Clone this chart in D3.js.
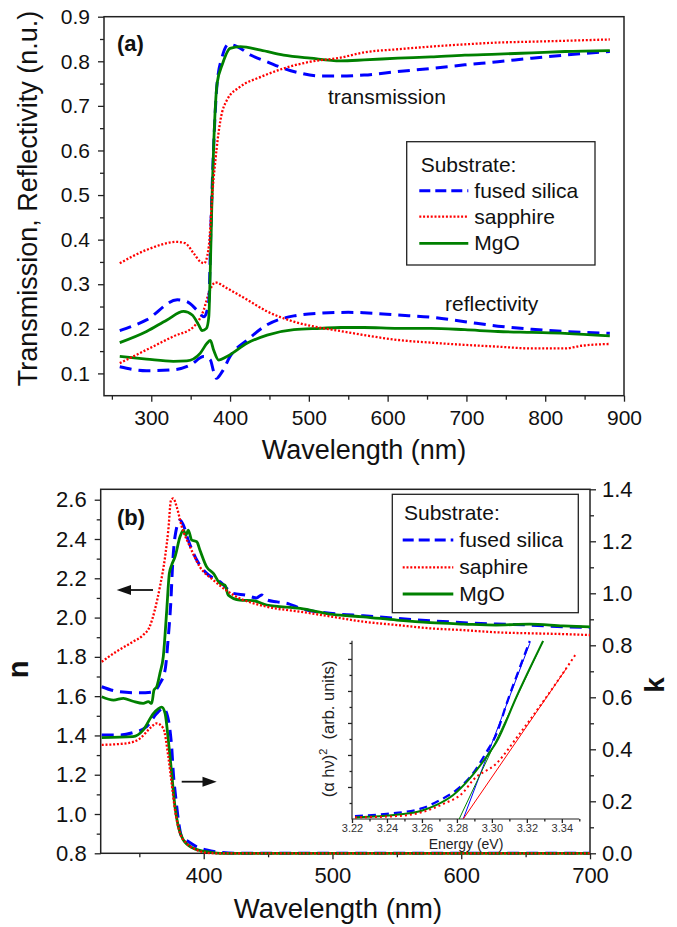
<!DOCTYPE html>
<html><head><meta charset="utf-8">
<script src="https://cdn.jsdelivr.net/npm/d3@7"></script>
<style>body{margin:0;background:#fff}</style>
</head><body>
<svg id="c" width="677" height="927"></svg>
<script>
// ---------------- DATA ----------------
// Panel (a): wavelength (nm), value (n.u.)
const silicaT = [[260,0.196],[294,0.220],[333,0.265],[345,0.261],[358,0.242],[367,0.227],[373,0.262],[376,0.45],[379,0.601],[383.6,0.751],[390,0.810],[398,0.838],[409,0.833],[426,0.814],[447,0.799],[468,0.784],[490,0.773],[515,0.767],[540,0.767],[570,0.769],[613,0.777],[655,0.784],[698,0.792],[740,0.799],[783,0.807],[825,0.814],[882,0.822]];
const sapphireT = [[260,0.347],[294,0.377],[333,0.395],[343,0.392],[354,0.369],[362,0.351],[367,0.347],[372.5,0.377],[375,0.43],[377,0.489],[381.4,0.578],[387.8,0.668],[396,0.713],[413,0.743],[439,0.765],[468,0.784],[502,0.799],[540,0.808],[570,0.820],[613,0.827],[655,0.833],[698,0.838],[740,0.842],[783,0.844],[825,0.846],[882,0.849]];
const mgoT = [[260,0.169],[294,0.194],[320,0.220],[341,0.239],[352,0.231],[360,0.209],[364.5,0.196],[370,0.201],[373,0.227],[375,0.339],[377,0.489],[379.3,0.616],[383.6,0.751],[390,0.792],[400,0.829],[413,0.833],[439,0.825],[468,0.814],[502,0.807],[540,0.801],[570,0.803],[613,0.807],[655,0.810],[698,0.814],[740,0.816],[783,0.819],[825,0.822],[882,0.824]];
const silicaR = [[260,0.115],[294,0.106],[328,0.108],[350,0.119],[366.5,0.138],[375,0.130],[379,0.105],[382.7,0.089],[390,0.104],[400,0.138],[422,0.175],[447,0.209],[481,0.229],[515,0.235],[550,0.237],[570,0.236],[613,0.231],[655,0.226],[698,0.216],[740,0.206],[783,0.199],[825,0.194],[882,0.190]];
const sapphireR = [[260,0.123],[294,0.153],[328,0.183],[354,0.205],[366.5,0.242],[373,0.280],[381.4,0.304],[396,0.291],[422,0.265],[447,0.239],[481,0.216],[507,0.205],[540,0.195],[570,0.186],[613,0.175],[655,0.169],[698,0.164],[740,0.160],[783,0.156],[825,0.156],[846,0.162],[882,0.166]];
const mgoR = [[260,0.138],[294,0.132],[328,0.127],[345,0.128],[362,0.145],[371,0.168],[375,0.174],[379,0.153],[385.6,0.130],[396,0.138],[422,0.168],[447,0.186],[481,0.198],[515,0.201],[540,0.203],[570,0.203],[613,0.201],[655,0.201],[698,0.198],[740,0.194],[783,0.192],[825,0.190],[882,0.184]];

// Panel (b): wavelength (nm), n
const silicaN = [[320.8,1.648],[335,1.622],[350.5,1.617],[361,1.622],[366,1.665],[370,1.733],[372.5,1.902],[374.4,2.072],[375.9,2.276],[377.7,2.411],[381.6,2.496],[384.2,2.471],[388,2.394],[394.6,2.293],[402.3,2.225],[412.7,2.182],[423,2.123],[433,2.114],[441,2.10],[445,2.115],[449,2.09],[457,2.08],[466,2.07],[475,2.047],[500,2.021],[524,2.009],[550,1.996],[576,1.984],[602,1.974],[627,1.967],[653,1.962],[679,1.953],[700,1.95]];
const sapphireN = [[320.8,1.775],[332,1.826],[345,1.877],[353,1.911],[358,1.953],[362,2.038],[366,2.157],[370,2.309],[372.5,2.445],[374.6,2.598],[376.4,2.607],[379,2.564],[383,2.462],[389.4,2.36],[397,2.258],[407.5,2.191],[423,2.115],[449,2.055],[475,2.03],[500,2.004],[524,1.979],[550,1.962],[576,1.945],[602,1.936],[627,1.925],[653,1.92],[679,1.916],[700,1.911]];
const mgoN = [[320.8,1.597],[330,1.58],[337.6,1.589],[345,1.574],[353,1.563],[357,1.572],[359.6,1.563],[361.4,1.631],[363.5,1.648],[366,1.716],[368.6,1.801],[371.3,2.038],[373.3,2.225],[375.1,2.267],[377.7,2.309],[381.6,2.411],[384.2,2.445],[386.2,2.42],[388,2.445],[390.7,2.394],[394.6,2.386],[397.1,2.343],[402.3,2.258],[407.5,2.225],[412.7,2.174],[416.5,2.165],[419.1,2.114],[428,2.089],[438.5,2.086],[449,2.064],[475,2.047],[500,2.016],[524,2.004],[550,1.987],[576,1.974],[602,1.967],[627,1.962],[653,1.967],[679,1.958],[700,1.953]];
// Panel (b): wavelength (nm), k
const silicaK = [[320.8,0.455],[335,0.455],[345,0.464],[355.7,0.487],[363.5,0.538],[368.6,0.558],[371.3,0.538],[373.8,0.474],[375.1,0.41],[376.4,0.308],[378.5,0.205],[380.3,0.128],[382.9,0.064],[388,0.045],[394.6,0.025],[402.3,0.013],[412.7,0.004],[430,0],[700,0]];
const sapphireK = [[320.8,0.417],[340,0.423],[350.6,0.442],[358.3,0.481],[363.5,0.5],[368.6,0.481],[372.5,0.372],[375.1,0.269],[377.7,0.167],[381.6,0.077],[386.8,0.038],[394.6,0.013],[402.3,0.002],[410,0],[700,0]];
const mgoK = [[320.8,0.445],[345,0.449],[353,0.474],[361,0.538],[367.4,0.562],[370,0.538],[372.5,0.436],[375.1,0.308],[377.7,0.179],[380.3,0.102],[384.2,0.051],[392,0.019],[402.3,0.006],[413,0],[700,0]];

// Inset: energy (eV), (alpha h nu)^2 (arb. units)
const silicaInset = [[3.2217,0.09],[3.2398,0.16],[3.2598,0.33],[3.2703,0.59],[3.2798,0.91],[3.2874,1.30],[3.297,2.10],[3.3027,2.67],[3.3084,3.6],[3.316,4.74],[3.3217,5.56]];
const mgoInset = [[3.2217,0.05],[3.2455,0.13],[3.2598,0.26],[3.2684,0.44],[3.2779,0.75],[3.2874,1.27],[3.297,1.95],[3.3027,2.41],[3.3141,3.82],[3.3293,5.56]];
const sapphireInset = [[3.2217,0.05],[3.2455,0.09],[3.2598,0.21],[3.2722,0.47],[3.2836,0.83],[3.2893,1.22],[3.3027,1.74],[3.315,2.6],[3.33,3.72],[3.3484,5.18]];
const silicaFit = [[3.2836,0],[3.3217,5.49]];
const mgoFit = [[3.2813,0],[3.3293,5.56]];
const sapphireFit = [[3.2836,0],[3.3427,4.71]];

// ticks / labels
const xTicksA = [300,400,500,600,700,800,900];
const xMinorA = [250,350,450,550,650,750,850];
const yTicksA = [0.1,0.2,0.3,0.4,0.5,0.6,0.7,0.8,0.9];
const yMinorA = [0.15,0.25,0.35,0.45,0.55,0.65,0.75,0.85];
const xTicksB = [400,500,600,700];
const xMinorB = [350,450,550,650];
const nTicks = [0.8,1.0,1.2,1.4,1.6,1.8,2.0,2.2,2.4,2.6];
const nMinor = [0.9,1.1,1.3,1.5,1.7,1.9,2.1,2.3,2.5];
const kTicks = [0,0.2,0.4,0.6,0.8,1.0,1.2,1.4];
const kMinor = [0.1,0.3,0.5,0.7,0.9,1.1,1.3];
const eTicks = [3.22,3.24,3.26,3.28,3.30,3.32,3.34];
const eMinor = [3.23,3.25,3.27,3.29,3.31,3.33,3.35];
const insetYTicks = [0.5,1,1.5,2,2.5,3,3.5,4,4.5,5,5.5];
const legendA = ["fused silica","sapphire","MgO"];
const legendB = ["fused silica","saphire","MgO"];

// ---------------- STYLE ----------------
const FONT = '"Liberation Sans", Arial, Helvetica, sans-serif';
const BLUE = "#0000ff", RED = "#ff0000", GREEN = "#008000";
const styles = {
  silica: {stroke: BLUE, w: 3, dash: "12,7"},
  sapphire: {stroke: RED, w: 2.3, dash: "2,1.8"},
  mgo: {stroke: GREEN, w: 2.8, dash: null}
};
const svg = d3.select("#c");

function txt(x, y, s, fs, opts = {}) {
  const t = svg.append("text").attr("x", x).attr("y", y).text(s)
    .attr("font-family", FONT).attr("font-size", fs).attr("fill", opts.fill || "#111");
  if (opts.anchor) t.attr("text-anchor", opts.anchor);
  if (opts.bold) t.attr("font-weight", "bold");
  if (opts.rot) t.attr("transform", `rotate(-90,${x},${y})`);
  return t;
}
function drawAxis(make, transform, major, minor, fs, fmt, pad, majLen, minLen, color) {
  const g = svg.append("g").attr("transform", transform)
    .call(make().tickValues(major).tickSize(majLen).tickPadding(pad).tickFormat(fmt));
  g.select(".domain").remove();
  g.selectAll("text").attr("font-size", fs).attr("font-family", FONT).attr("fill", color || "#111");
  g.selectAll("line").attr("stroke", "#222").attr("stroke-width", 1.3);
  const gm = svg.append("g").attr("transform", transform)
    .call(make().tickValues(minor).tickSize(minLen).tickFormat(""));
  gm.select(".domain").remove();
  gm.selectAll("line").attr("stroke", "#222").attr("stroke-width", 1.3);
}
function curve(data, x, y, st, w, dash) {
  const line = d3.line().x(d => x(d[0])).y(d => y(d[1])).curve(d3.curveMonotoneX);
  const p = svg.append("path").datum(data).attr("d", line).attr("fill", "none")
    .attr("stroke", st.stroke).attr("stroke-width", w || st.w).attr("stroke-linejoin", "round");
  const ds = dash !== undefined ? dash : st.dash;
  if (ds) p.attr("stroke-dasharray", ds);
  return p;
}
function legend(x0, y0, x1, y1, titleX, titleY, lineX0, lineX1, textX, rowsY, names) {
  svg.append("rect").attr("x", x0).attr("y", y0).attr("width", x1 - x0).attr("height", y1 - y0)
    .attr("fill", "#fff").attr("stroke", "#222").attr("stroke-width", 1.3);
  txt(titleX, titleY, "Substrate:", 21);
  const keys = ["silica", "sapphire", "mgo"];
  keys.forEach((k, i) => {
    const st = styles[k];
    const l = svg.append("line").attr("x1", lineX0).attr("x2", lineX1).attr("y1", rowsY[i]).attr("y2", rowsY[i])
      .attr("stroke", st.stroke).attr("stroke-width", st.w);
    if (st.dash) l.attr("stroke-dasharray", k === "silica" ? "11,5" : st.dash);
    txt(textX, rowsY[i] + 7, names[i], 21);
  });
}

// ---------------- PANEL (a) ----------------
const xA = d3.scaleLinear().domain([240, 900]).range([104, 624]);
const yA = d3.scaleLinear().domain([0.05, 0.9]).range([395.7, 16.7]);
drawAxis(() => d3.axisBottom(xA), "translate(0,395.7)", xTicksA, xMinorA, 21, d3.format("d"), 8, 6, 4);
drawAxis(() => d3.axisLeft(yA), "translate(104,0)", yTicksA, yMinorA, 21, d3.format(".1f"), 8, 6, 4);
svg.append("rect").attr("x", 104).attr("y", 16.7).attr("width", 520).attr("height", 379)
  .attr("fill", "none").attr("stroke", "#222").attr("stroke-width", 1.5);

curve(silicaR, xA, yA, styles.silica);
curve(mgoR, xA, yA, styles.mgo);
curve(sapphireR, xA, yA, styles.sapphire);
curve(silicaT, xA, yA, styles.silica);
curve(mgoT, xA, yA, styles.mgo);
curve(sapphireT, xA, yA, styles.sapphire);

txt(117, 51, "(a)", 22, {bold: true});
txt(328, 104, "transmission", 21);
txt(445, 311, "reflectivity", 21);
legend(406.7, 141.7, 595, 265, 420.7, 171.7, 419.3, 468.3, 474.3, [190.7, 216.7, 243.3], legendA);
txt(37, 198.5, "Transmission, Reflectivity (n.u.)", 27, {anchor: "middle", rot: true});
txt(364, 459, "Wavelength (nm)", 27, {anchor: "middle"});

// ---------------- PANEL (b) ----------------
const xB = d3.scaleLinear().domain([320, 700]).range([100.7, 590]);
const yN = d3.scaleLinear().domain([0.8, 2.653]).range([853.3, 489.3]);
const yK = d3.scaleLinear().domain([0, 1.4]).range([853.3, 489.3]);
drawAxis(() => d3.axisBottom(xB), "translate(0,853.3)", xTicksB, xMinorB, 22, d3.format("d"), 8, 6, 4);
drawAxis(() => d3.axisLeft(yN), "translate(100.7,0)", nTicks, nMinor, 22, d3.format(".1f"), 8, 6, 4);
drawAxis(() => d3.axisRight(yK), "translate(590,0)", kTicks, kMinor, 22, d3.format(".1f"), 6, 6, 4);
svg.append("rect").attr("x", 100.7).attr("y", 489.3).attr("width", 489.3).attr("height", 364)
  .attr("fill", "none").attr("stroke", "#222").attr("stroke-width", 1.5);

curve(silicaK, xB, yK, styles.silica);
curve(mgoK, xB, yK, styles.mgo);
curve(sapphireK, xB, yK, styles.sapphire);
curve(silicaN, xB, yN, styles.silica);
curve(mgoN, xB, yN, styles.mgo);
curve(sapphireN, xB, yN, styles.sapphire);

txt(117, 525, "(b)", 22, {bold: true});
legend(392.3, 494.3, 578.3, 612.7, 404, 520, 402.7, 453.3, 459.3, [540, 567.3, 594], legendB);

// arrows
svg.append("line").attr("x1", 153).attr("x2", 128).attr("y1", 590).attr("y2", 590).attr("stroke", "#111").attr("stroke-width", 1.8);
svg.append("path").attr("d", "M116.7,590 L131,585 L131,595 Z").attr("fill", "#111");
svg.append("line").attr("x1", 181.7).attr("x2", 205).attr("y1", 781.7).attr("y2", 781.7).attr("stroke", "#111").attr("stroke-width", 1.8);
svg.append("path").attr("d", "M216.7,781.7 L202.5,776.7 L202.5,786.7 Z").attr("fill", "#111");

txt(28, 669.5, "n", 29, {anchor: "middle", bold: true, rot: true});
txt(664, 685, "k", 28, {anchor: "middle", bold: true, rot: true});
txt(338, 918, "Wavelength (nm)", 27.5, {anchor: "middle"});

// ---------------- INSET ----------------
const xI = d3.scaleLinear().domain([3.22, 3.35]).range([352, 579.3]);
const yI = d3.scaleLinear().domain([0, 5.57]).range([819, 640.7]);
drawAxis(() => d3.axisBottom(xI), "translate(0,819)", eTicks, eMinor, 11, d3.format(".2f"), 1, 4, 2.5, "#333");
drawAxis(() => d3.axisLeft(yI), "translate(352,0)", insetYTicks.filter(v => v % 1 === 0), insetYTicks.filter(v => v % 1 !== 0), 11, () => "", 3, 4, 2.5);
svg.append("path").attr("d", "M352,640.7 L352,819 L579.3,819").attr("fill", "none").attr("stroke", "#222").attr("stroke-width", 1.2);

curve(silicaFit, xI, yI, styles.silica, 1, null);
curve(mgoFit, xI, yI, styles.mgo, 1, null);
curve(sapphireFit, xI, yI, styles.sapphire, 1, null);
curve(silicaInset, xI, yI, styles.silica, 2.3, "8,5");
curve(mgoInset, xI, yI, styles.mgo, 2, null);
curve(sapphireInset, xI, yI, styles.sapphire, 2, "2,3");

const yl = svg.append("text").attr("transform", "rotate(-90,334,729)").attr("x", 334).attr("y", 729)
  .attr("text-anchor", "middle").attr("font-family", FONT).attr("font-size", 16.5).attr("fill", "#222");
yl.append("tspan").text("(\u03b1 h\u03bd)");
yl.append("tspan").text("2").attr("font-size", 11).attr("dy", -7);
yl.append("tspan").text("\u00a0\u00a0(arb. units)").attr("dy", 7);
txt(466, 848.5, "Energy (eV)", 14, {anchor: "middle", fill: "#222"});
</script>
</body></html>
